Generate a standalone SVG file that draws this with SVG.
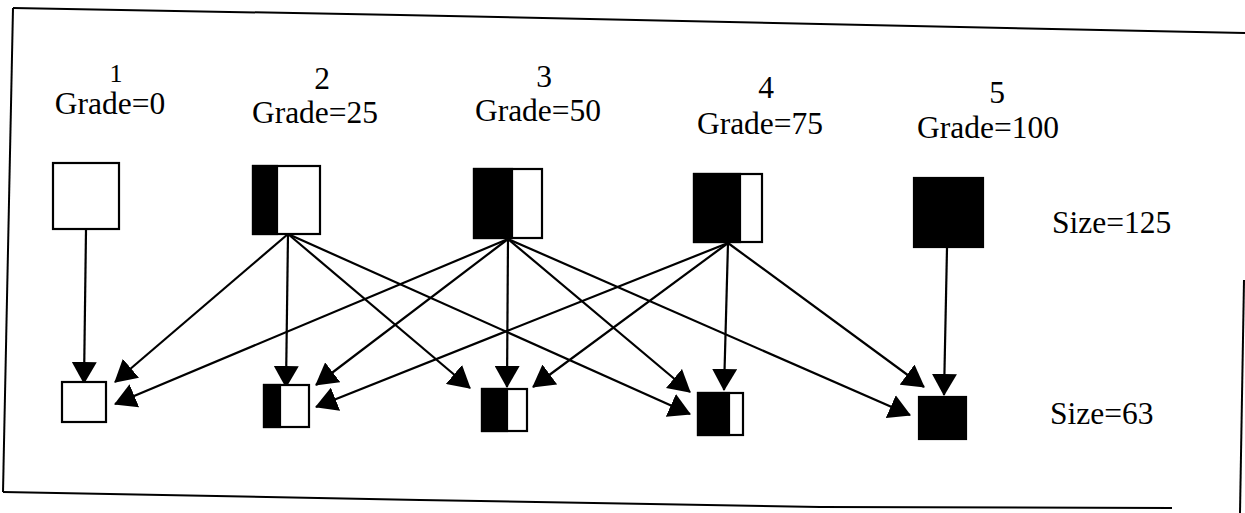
<svg xmlns="http://www.w3.org/2000/svg" width="1245" height="513" viewBox="0 0 1245 513">
<style>
text{font-family:"Liberation Serif","DejaVu Serif","Noto Serif",serif;font-size:31.5px;fill:#000}
.lbl{text-anchor:middle}
.box{fill:#fff;stroke:#000;stroke-width:2.2}
.blk{fill:#000;stroke:#000;stroke-width:2.2}
.edge{stroke:#000;stroke-width:2.2;fill:none;marker-end:url(#arr)}
.frame{stroke:#000;stroke-width:2;fill:none}
</style>
<defs>
<marker id="arr" markerUnits="userSpaceOnUse" viewBox="0 0 22 25" markerWidth="22" markerHeight="25" refX="21" refY="12.5" orient="auto">
<path d="M0,0 L22,12.5 L0,25 Z" fill="#000"/>
</marker>
</defs>
<rect width="1245" height="513" fill="#fff"/>
<g id="frame">
<path class="frame" d="M13,8 L400,15 L820,24 L1245,33"/>
<path class="frame" d="M13,8 L3,492"/>
<path class="frame" d="M3,492 L420,500 L820,507 L1172,508"/>
<path class="frame" d="M1244,280 L1240,513"/>
</g>
<g id="labels">
<text class="lbl" x="116" y="82" font-family="Liberation Serif, DejaVu Serif, serif" style="font-size:26px">1</text>
<text class="lbl" x="110" y="114" font-family="Liberation Serif, DejaVu Serif, serif">Grade=0</text>
<text class="lbl" x="322" y="89" font-family="Liberation Serif, DejaVu Serif, serif">2</text>
<text class="lbl" x="315" y="123" font-family="Liberation Serif, DejaVu Serif, serif">Grade=25</text>
<text class="lbl" x="544" y="87" font-family="Liberation Serif, DejaVu Serif, serif">3</text>
<text class="lbl" x="538" y="121" font-family="Liberation Serif, DejaVu Serif, serif">Grade=50</text>
<text class="lbl" x="766" y="98" font-family="Liberation Serif, DejaVu Serif, serif">4</text>
<text class="lbl" x="760" y="134" font-family="Liberation Serif, DejaVu Serif, serif">Grade=75</text>
<text class="lbl" x="997" y="103" font-family="Liberation Serif, DejaVu Serif, serif">5</text>
<text class="lbl" x="988" y="138" font-family="Liberation Serif, DejaVu Serif, serif">Grade=100</text>
<text x="1052" y="233" font-family="Liberation Serif, DejaVu Serif, serif">Size=125</text>
<text x="1050" y="424" font-family="Liberation Serif, DejaVu Serif, serif">Size=63</text>
</g>
<g id="connectors">
<line class="edge" x1="86" y1="230" x2="84" y2="383"/>
<line class="edge" x1="288" y1="234" x2="115" y2="382"/>
<line class="edge" x1="288" y1="234" x2="286" y2="387"/>
<line class="edge" x1="288" y1="234" x2="470" y2="388"/>
<line class="edge" x1="288" y1="234" x2="690" y2="414"/>
<line class="edge" x1="508" y1="239" x2="115" y2="404"/>
<line class="edge" x1="508" y1="239" x2="316" y2="385"/>
<line class="edge" x1="508" y1="239" x2="507" y2="387"/>
<line class="edge" x1="508" y1="239" x2="690" y2="392"/>
<line class="edge" x1="508" y1="239" x2="910" y2="415"/>
<line class="edge" x1="728" y1="243" x2="316" y2="407"/>
<line class="edge" x1="728" y1="243" x2="533" y2="387"/>
<line class="edge" x1="728" y1="243" x2="724" y2="390"/>
<line class="edge" x1="728" y1="243" x2="924" y2="387"/>
<line class="edge" x1="947" y1="248" x2="944" y2="395"/>
</g>
<g id="n1"><rect class="box" x="53" y="163" width="66" height="66"/></g>
<g id="n2"><rect class="box" x="253" y="166" width="67" height="68"/><rect class="blk" x="253" y="166" width="24" height="68"/></g>
<g id="n3"><rect class="box" x="474" y="169" width="68" height="69"/><rect class="blk" x="474" y="169" width="38" height="69"/></g>
<g id="n4"><rect class="box" x="694" y="174" width="68" height="68"/><rect class="blk" x="694" y="174" width="46" height="68"/></g>
<g id="n5"><rect class="blk" x="914" y="178" width="69" height="69"/></g>
<g id="b1"><rect class="box" x="62" y="382" width="44" height="40"/></g>
<g id="b2"><rect class="box" x="264" y="385" width="45" height="42"/><rect class="blk" x="264" y="385" width="16" height="42"/></g>
<g id="b3"><rect class="box" x="482" y="389" width="45" height="42"/><rect class="blk" x="482" y="389" width="25" height="42"/></g>
<g id="b4"><rect class="box" x="698" y="393" width="45" height="42"/><rect class="blk" x="698" y="393" width="31" height="42"/></g>
<g id="b5"><rect class="blk" x="919" y="397" width="47" height="42"/></g>
</svg>
